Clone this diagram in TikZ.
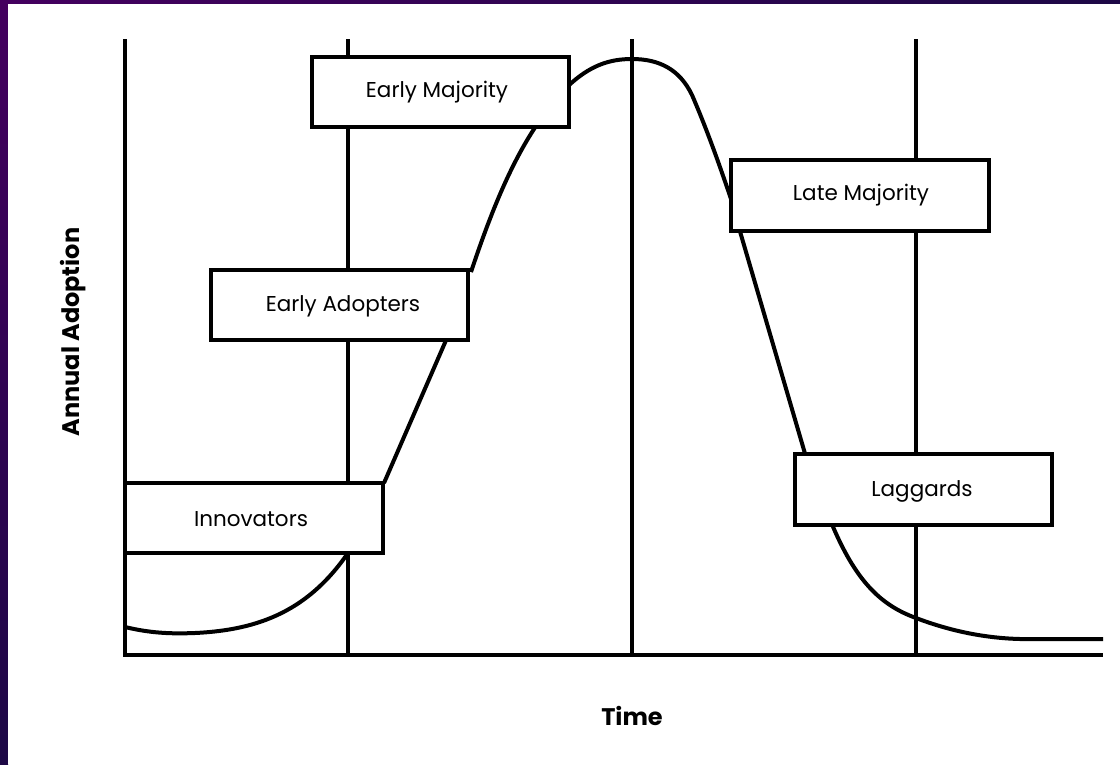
\documentclass[tikz,border=0pt]{standalone}
\usepackage{fontspec}
\setmainfont{Poppins}
\definecolor{purpA}{HTML}{44005F}
\definecolor{purpB}{HTML}{1D0846}
\begin{document}
\begin{tikzpicture}[x=1pt,y=-1pt,
  ln/.style={line width=4pt},
  cv/.style={line width=4pt},
  stagebox/.style={draw,line width=4pt,fill=white},
  lbl/.style={font=\fontsize{21.5}{24}\selectfont,inner sep=0pt},
  axlbl/.style={font=\fontsize{24}{28}\selectfont\bfseries,inner sep=0pt}]
\useasboundingbox (0,0) rectangle (1120,764);
% frame
\shade[top color=purpA,bottom color=purpB] (0,0) rectangle (8,764);
\shade[left color=purpA,right color=purpB] (0,0) rectangle (1120,4);
\fill[white] (8,4) rectangle (1120,764);
% axes and dividers
\coordinate (ax0) at (125,39);
\coordinate (ax1) at (125,655);
\coordinate (axe) at (1103,655);
\coordinate (d1t) at (348,39);
\coordinate (d1b) at (348,655);
\coordinate (d2t) at (632,39);
\coordinate (d2b) at (632,655);
\coordinate (d3t) at (916,39);
\coordinate (d3b) at (916,655);
\draw[ln] (ax0) -- (ax1) -- (axe);
\draw[ln] (d1t) -- (d1b);
\draw[ln] (d2t) -- (d2b);
\draw[ln] (d3t) -- (d3b);
% curve pieces
\draw[cv] (125,627) .. controls (150,633) and (170,634) .. (195,633)
  .. controls (260,630) and (310,610) .. (350,550);
\draw[cv] (447,338) -- (384,483);
\draw[cv] (536,126) .. controls (510,165) and (490,215) .. (471,272);
\draw[cv] (567,87) .. controls (590,65) and (610,59) .. (632,59)
  .. controls (660,59) and (680,70) .. (692,95)
  .. controls (705,125) and (718,160) .. (733,205);
\draw[cv] (739,228) -- (806,457);
\draw[cv] (831,522) .. controls (855,580) and (880,605) .. (916,618)
  .. controls (945,629) and (980,638) .. (1020,639) -- (1103,639);
% stage boxes
\draw[stagebox] (312,57) rectangle (569,127);
\draw[stagebox] (731,160) rectangle (989,231);
\draw[stagebox] (211,270) rectangle (468,340);
\draw[stagebox] (125,483) rectangle (383,553);
\draw[stagebox] (795,454) rectangle (1052,525);
\node[lbl] (em) at (437,92) {Early Majority};
\node[lbl] (lm) at (861,195) {Late Majority};
\node[lbl] (ea) at (343,306) {Early Adopters};
\node[lbl] (inn) at (251,519) {Innovators};
\node[lbl] (lag) at (922,491) {Laggards};
% axis labels
\node[axlbl,rotate=90] (ylab) at (73,332) {Annual Adoption};
\node[axlbl] (xlab) at (632,716) {Time};
\end{tikzpicture}
\end{document}
